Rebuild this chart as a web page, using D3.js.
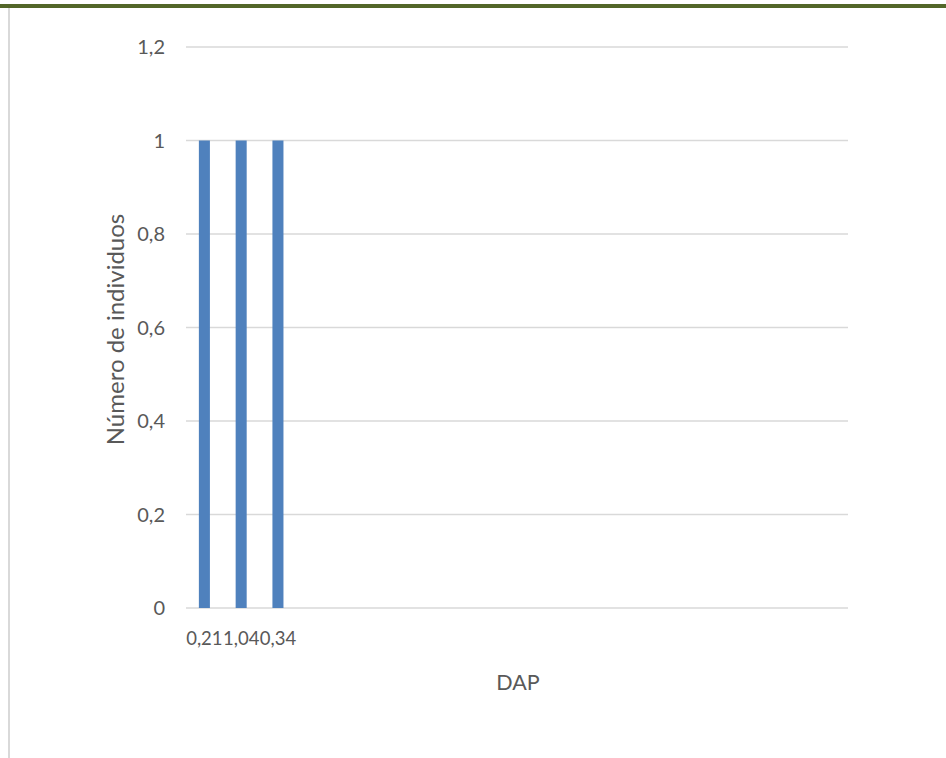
<!DOCTYPE html>
<html>
<head>
<meta charset="utf-8">
<script src="https://cdn.jsdelivr.net/npm/d3@7"></script>
<style>
  body { margin: 0; background: #fff; }
  text { font-family: Lato, "Noto Sans", sans-serif; fill: #595959; }
</style>
</head>
<body>
<div id="chart"></div>
<script>
(function() {
  var w = 946,
      h = 758;

  // x slots: only the first three carry a value, the rest are empty categories
  var categories = ["0,21", "1,04", "0,34", "", "", "", "", "", "", "", "", "", "", "", "", "", "", ""];
  var values = [1, 1, 1, null, null, null, null, null, null, null, null, null, null, null, null, null, null, null];
  var yTicks = [0, 0.2, 0.4, 0.6, 0.8, 1, 1.2];

  var svg = d3.select("#chart")
    .append("svg")
    .attr("width", w)
    .attr("height", h);

  // frame: green rule on top, grey rule on the left
  svg.append("rect").attr("x", 0).attr("y", 4).attr("width", w).attr("height", 4).attr("fill", "#536629");
  svg.append("rect").attr("x", 8).attr("y", 8).attr("width", 2).attr("height", h - 8).attr("fill", "#d9d9d9");

  var left = 186, right = 848, top = 47, bottom = 608;

  var x = d3.scaleBand().domain(d3.range(categories.length)).range([left, right]).paddingInner(0.7).paddingOuter(0.35);
  var y = d3.scaleLinear().domain([0, 1.2]).range([bottom, top]);

  var fmt = function(d) { return String(+d.toFixed(1)).replace(".", ","); };

  // gridlines
  svg.append("g")
    .selectAll("line")
    .data(yTicks)
    .enter().append("line")
    .attr("x1", left).attr("x2", right)
    .attr("y1", function(d) { return y(d); })
    .attr("y2", function(d) { return y(d); })
    .attr("stroke", "#d9d9d9")
    .attr("stroke-width", 1.3);

  // y tick labels
  svg.append("g")
    .selectAll("text")
    .data(yTicks)
    .enter().append("text")
    .attr("x", 165)
    .attr("y", function(d) { return y(d); })
    .attr("dy", "0.35em")
    .attr("text-anchor", "end")
    .style("font-size", "20px")
    .text(fmt);

  // bars
  var data = values.map(function(v, i) { return { i: i, v: v }; }).filter(function(d) { return d.v != null; });
  svg.append("g")
    .selectAll("rect")
    .data(data)
    .enter().append("rect")
    .attr("x", function(d) { return x(d.i); })
    .attr("width", x.bandwidth())
    .attr("y", function(d) { return y(d.v); })
    .attr("height", function(d) { return y(0) - y(d.v); })
    .attr("fill", "#4f81bd");

  // x labels
  svg.append("g")
    .selectAll("text")
    .data(categories)
    .enter().append("text")
    .attr("x", function(d, i) { return x(i) + x.bandwidth() / 2; })
    .attr("y", 645)
    .attr("text-anchor", "middle")
    .style("font-size", "18.5px")
    .text(function(d) { return d; });

  // axis titles
  svg.append("text")
    .attr("x", 518).attr("y", 690)
    .attr("text-anchor", "middle")
    .style("font-size", "21.5px")
    .text("DAP");

  svg.append("text")
    .attr("transform", "translate(124," + ((top + bottom) / 2 + 2) + ") rotate(-90)")
    .attr("text-anchor", "middle")
    .style("font-size", "24px")
    .text("Número de individuos");
})();
</script>
</body>
</html>
